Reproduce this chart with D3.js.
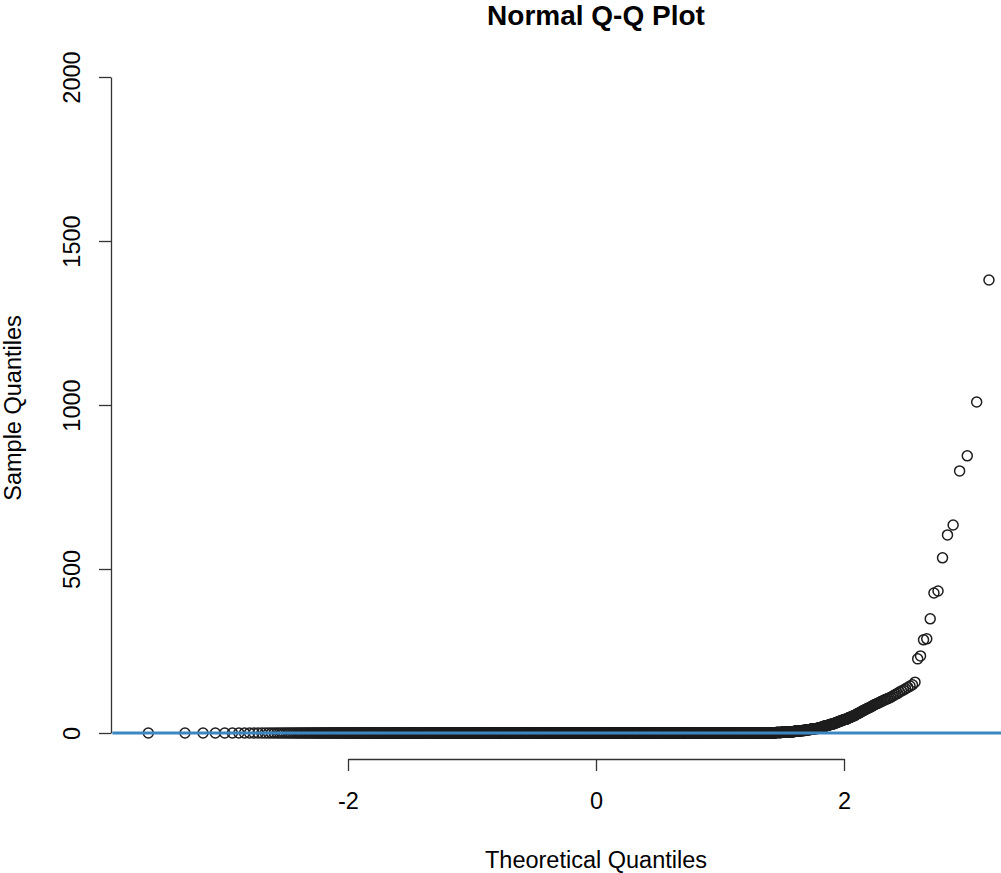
<!DOCTYPE html>
<html>
<head>
<meta charset="utf-8">
<script src="https://cdn.jsdelivr.net/npm/d3@7"></script>
<style>
  body { margin: 0; background: white; }
  text { font-family: "Liberation Sans", Arial, sans-serif; fill: #000; }
</style>
</head>
<body>
<div id="chart"></div>
<script>
// sample size (from the spacing of the lowest points)
var nObs = 3270;

// largest sample values, rank 1 downwards (ranks 1 and 2 fall right of the crop)
var upperTail = [2000, 1560, 1381, 1009, 845, 799, 634, 604, 534, 433,
    427, 348, 287, 284, 235, 226, 155, 147, 143, 139,
    135, 131, 128, 125, 121, 118, 115, 112, 109, 107,
    105, 103, 101, 99, 97, 95, 93, 91, 89, 88,
    86, 84, 82, 80, 78, 77, 75, 74, 72, 70,
    69, 67, 66, 64, 62, 61, 60, 58, 57, 55];

// the rest of the sorted sample, as [value, count], still going downwards
var lowerRuns = [
    [53, 2], [51, 2], [49, 2], [47, 2], [45, 2],
    [42, 3], [41, 2], [39, 3], [37, 2],
    [35, 3], [33, 3], [31, 2], [29, 2],
    [28, 3], [27, 2], [26, 3], [24, 2],
    [23, 3], [22, 2], [21, 3], [19, 2],
    [18, 3], [17, 3], [16, 2], [15, 2],
    [14, 5], [13, 5], [12, 5],
    [11, 5], [10, 5], [9, 5],
    [8, 8], [7, 7], [6, 8], [5, 7],
    [4, 10], [3, 10], [2.5, 10], [2, 10],
    [1.5, 20], [1, 20], [0.5, 40],
    [0, 2970]
];

var xTicks = [-2, 0, 2];
var yTicks = [0, 500, 1000, 1500, 2000];

// inverse normal cdf (Acklam)
function qnorm(p) {
    var a = [-3.969683028665376e+01, 2.209460984245205e+02, -2.759285104469687e+02, 1.383577518672690e+02, -3.066479806614716e+01, 2.506628277459239e+00];
    var b = [-5.447609879822406e+01, 1.615858368580409e+02, -1.556989798598866e+02, 6.680131188771972e+01, -1.328068155288572e+01];
    var c = [-7.784894002430293e-03, -3.223964580411365e-01, -2.400758277161838e+00, -2.549732539343734e+00, 4.374664141464968e+00, 2.938163982698783e+00];
    var d = [7.784695709041462e-03, 3.224671290700398e-01, 2.445134137142996e+00, 3.754408661907416e+00];
    var pl = 0.02425, q, r;
    if (p < pl || p > 1 - pl) {
        q = Math.sqrt(-2 * Math.log(p < pl ? p : 1 - p));
        var v = (((((c[0]*q+c[1])*q+c[2])*q+c[3])*q+c[4])*q+c[5]) / ((((d[0]*q+d[1])*q+d[2])*q+d[3])*q+1);
        return p < pl ? v : -v;
    }
    q = p - 0.5; r = q * q;
    return (((((a[0]*r+a[1])*r+a[2])*r+a[3])*r+a[4])*r+a[5])*q / (((((b[0]*r+b[1])*r+b[2])*r+b[3])*r+b[4])*r+1);
}

// sorted sample, ascending
var sample = upperTail.slice();
lowerRuns.forEach(function(d) {
    for (var i = 0; i < d[1]; i++) sample.push(d[0]);
});
sample.reverse();

var points = sample.map(function(v, i) {
    return { q: qnorm((i + 0.5) / sample.length), v: v };
});

var width = 1001, height = 873;

var svg = d3.select("#chart").append("svg")
    .attr("width", width)
    .attr("height", height);

// plot region runs past the right edge of the picture
var x = d3.scaleLinear().domain([-2, 2]).range([348, 844]);
var y = d3.scaleLinear().domain([0, 2000]).range([733, 77]);

svg.append("g")
    .selectAll("circle")
    .data(points)
    .enter().append("circle")
    .attr("cx", function(d) { return x(d.q); })
    .attr("cy", function(d) { return y(d.v); })
    .attr("r", 5)
    .style("fill", "none")
    .style("stroke", "#1e1e1e")
    .style("stroke-width", 1.5);

// horizontal reference line at 0
svg.append("line")
    .attr("x1", x(-3.9))
    .attr("x2", width)
    .attr("y1", y(0))
    .attr("y2", y(0))
    .style("stroke", "#3a87c2")
    .style("stroke-width", 3);

// x axis only spans the ticks, like base R
var xAxisScale = x.copy().domain([d3.min(xTicks), d3.max(xTicks)])
    .range([x(d3.min(xTicks)), x(d3.max(xTicks))]);
var xAxis = svg.append("g")
    .attr("transform", "translate(0,759)")
    .call(d3.axisBottom(xAxisScale).tickValues(xTicks).tickSize(12).tickSizeOuter(0).tickPadding(0)
        .tickFormat(d3.format("d")));
xAxis.selectAll("text").remove();
xAxis.selectAll(".tick").append("text")
    .attr("y", 50)
    .attr("text-anchor", "middle")
    .style("font-size", "23.5px")
    .text(function(d) { return d; });

var yAxis = svg.append("g")
    .attr("transform", "translate(111,0)")
    .call(d3.axisLeft(y).tickValues(yTicks).tickSize(12).tickSizeOuter(0));
yAxis.selectAll("text").remove();
yAxis.selectAll(".tick").append("text")
    .attr("transform", "translate(-31,0) rotate(-90)")
    .attr("text-anchor", "middle")
    .style("font-size", "23.5px")
    .text(function(d) { return d; });

svg.selectAll(".domain, .tick line")
    .style("stroke", "#333")
    .style("stroke-width", 1.3);
svg.selectAll(".tick text").style("fill", "#000");

// titles
svg.append("text")
    .attr("x", 596)
    .attr("y", 25)
    .attr("text-anchor", "middle")
    .style("font-size", "28px")
    .style("font-weight", "bold")
    .text("Normal Q-Q Plot");

svg.append("text")
    .attr("x", 596)
    .attr("y", 868)
    .attr("text-anchor", "middle")
    .style("font-size", "23.5px")
    .text("Theoretical Quantiles");

svg.append("text")
    .attr("transform", "translate(21,408) rotate(-90)")
    .attr("text-anchor", "middle")
    .style("font-size", "23.5px")
    .text("Sample Quantiles");
</script>
</body>
</html>
